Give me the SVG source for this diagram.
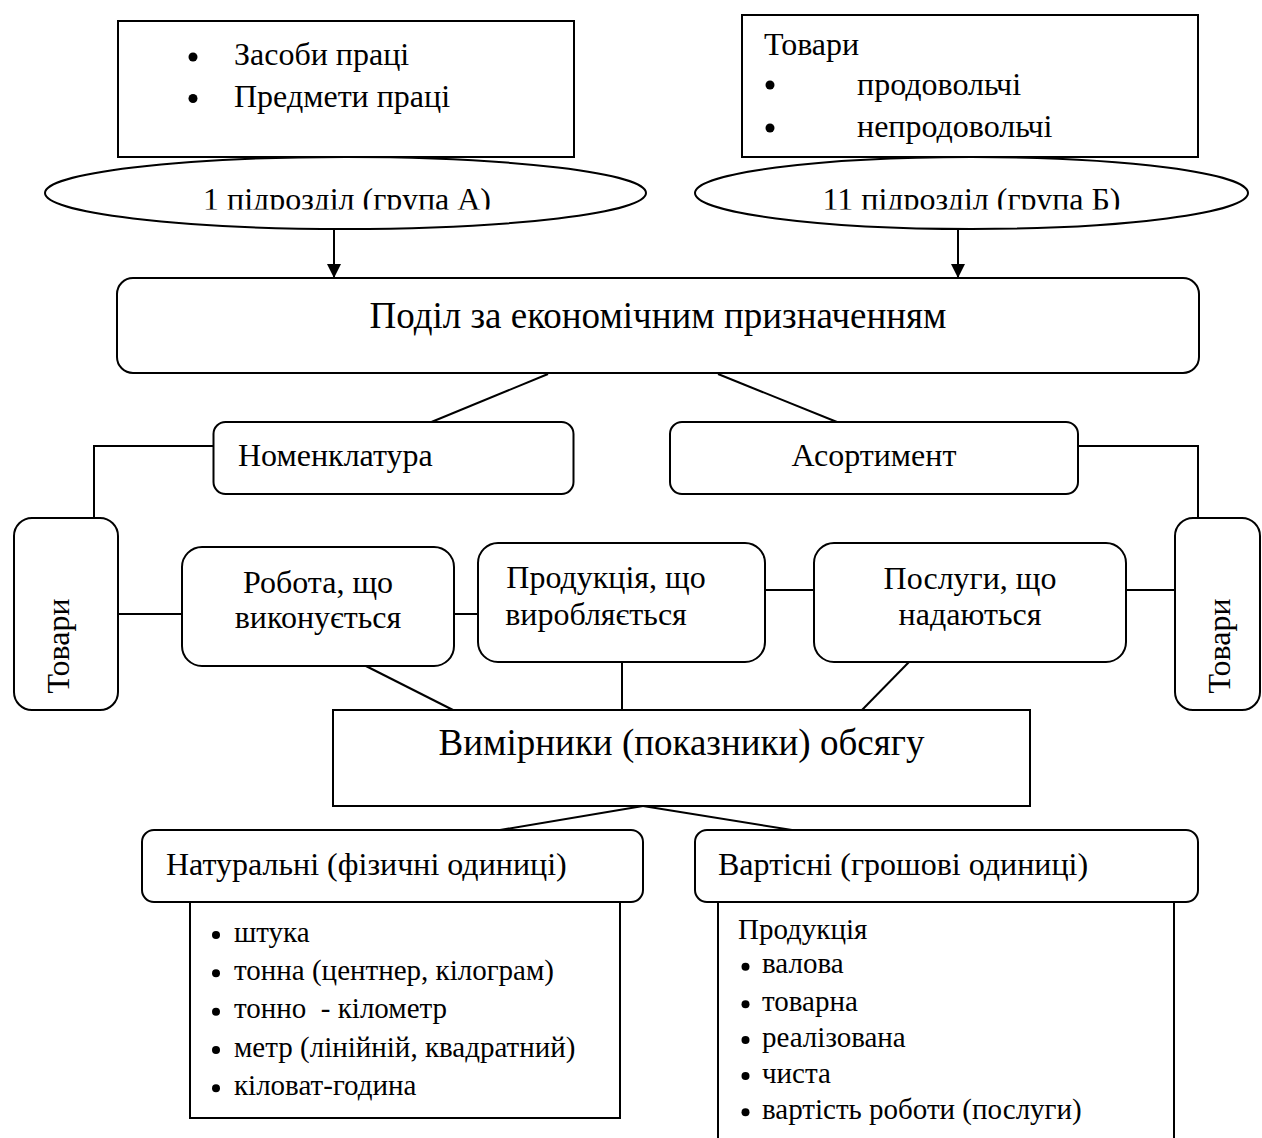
<svg xmlns="http://www.w3.org/2000/svg" width="1262" height="1138" viewBox="0 0 1262 1138">
<style>
  .box { fill: #fff; stroke: #000; stroke-width: 2; }
  .ln { fill: none; stroke: #000; stroke-width: 2; }
  text { font-family: "Liberation Serif", "Times New Roman", serif; fill: #000; }
  .t32 { font-size: 32px; }
  .t37 { font-size: 37px; }
  .t29 { font-size: 29px; }
  .mid { text-anchor: middle; }
  .dot { fill: #000; }
</style>
<defs>
  <marker id="arr" markerUnits="userSpaceOnUse" markerWidth="16" markerHeight="16" refX="14" refY="7" orient="auto">
    <path d="M0,0 L14,7 L0,14 Z" fill="#000"/>
  </marker>
  <clipPath id="clipA"><rect x="0" y="150" width="1262" height="59.5"/></clipPath>
</defs>

<g id="connectors">
  <line class="ln" x1="334" y1="229" x2="334" y2="278" marker-end="url(#arr)"/>
  <line class="ln" x1="958" y1="229" x2="958" y2="278" marker-end="url(#arr)"/>
  <line class="ln" x1="548" y1="374" x2="429" y2="423"/>
  <line class="ln" x1="718" y1="374" x2="837" y2="422"/>
  <polyline class="ln" points="213,446 94,446 94,518"/>
  <polyline class="ln" points="1078,446 1198,446 1198,518"/>
  <line class="ln" x1="118" y1="614" x2="189" y2="614"/>
  <line class="ln" x1="454" y1="614" x2="478" y2="614"/>
  <line class="ln" x1="765" y1="590" x2="814" y2="590"/>
  <line class="ln" x1="1126" y1="590" x2="1175" y2="590"/>
  <line class="ln" x1="358" y1="662" x2="453" y2="710"/>
  <line class="ln" x1="622" y1="662" x2="622" y2="710"/>
  <line class="ln" x1="909" y1="662" x2="862" y2="710"/>
  <line class="ln" x1="643" y1="806" x2="500" y2="830"/>
  <line class="ln" x1="643" y1="806" x2="792" y2="830"/>
</g>

<g id="node-means">
  <rect class="box" x="118" y="21" width="456" height="136"/>
  <circle class="dot" cx="193" cy="57" r="4.5"/>
  <circle class="dot" cx="193" cy="98.5" r="4.5"/>
  <text class="t32" x="234" y="65">Засоби праці</text>
  <text class="t32" x="234" y="107">Предмети праці</text>
</g>

<g id="node-goods-top">
  <rect class="box" x="742" y="15" width="456" height="142"/>
  <text class="t32" x="764" y="55">Товари</text>
  <circle class="dot" cx="770" cy="85" r="4.5"/>
  <circle class="dot" cx="770" cy="128" r="4.5"/>
  <text class="t32" x="857" y="95">продовольчі</text>
  <text class="t32" x="857" y="137">непродовольчі</text>
</g>

<g id="node-group-a">
  <ellipse class="box" cx="345.5" cy="193" rx="300.5" ry="36"/>
  <text class="t32 mid" x="347" y="210" clip-path="url(#clipA)">1 підрозділ (група А)</text>
</g>

<g id="node-group-b">
  <ellipse class="box" cx="971.5" cy="193" rx="276.5" ry="36"/>
  <text class="t32 mid" x="971.5" y="210" clip-path="url(#clipA)">11 підрозділ (група Б)</text>
</g>

<g id="node-division">
  <rect class="box" x="117" y="278" width="1082" height="95" rx="16"/>
  <text class="t37 mid" x="658" y="328">Поділ за економічним призначенням</text>
</g>

<g id="node-nomenclature">
  <rect class="box" x="213.5" y="422" width="360" height="72" rx="12"/>
  <text class="t32" x="238" y="466">Номенклатура</text>
</g>

<g id="node-assortment">
  <rect class="box" x="670" y="422" width="408" height="72" rx="12"/>
  <text class="t32 mid" x="874" y="466">Асортимент</text>
</g>

<g id="node-goods-left">
  <rect class="box" x="14" y="518" width="104" height="192" rx="18"/>
  <text class="t32 mid" transform="translate(69,646) rotate(-90)">Товари</text>
</g>

<g id="node-goods-right">
  <rect class="box" x="1175" y="518" width="85" height="192" rx="18"/>
  <text class="t32 mid" transform="translate(1230,646) rotate(-90)">Товари</text>
</g>

<g id="node-work">
  <rect class="box" x="182" y="547" width="272" height="119" rx="20"/>
  <text class="t32 mid" x="318" y="593">Робота, що</text>
  <text class="t32 mid" x="318" y="628">виконується</text>
</g>

<g id="node-products">
  <rect class="box" x="478" y="543" width="287" height="119" rx="20"/>
  <text class="t32 mid" x="606" y="588">Продукція, що</text>
  <text class="t32 mid" x="596" y="625">виробляється</text>
</g>

<g id="node-services">
  <rect class="box" x="814" y="543" width="312" height="119" rx="20"/>
  <text class="t32 mid" x="970" y="589">Послуги, що</text>
  <text class="t32 mid" x="970" y="625">надаються</text>
</g>

<g id="node-measures">
  <rect class="box" x="333" y="710" width="697" height="96"/>
  <text class="t37 mid" x="681.5" y="755">Вимірники (показники) обсягу</text>
</g>

<g id="node-natural">
  <rect class="box" x="190" y="902" width="430" height="216"/>
  <rect class="box" x="142" y="830" width="501" height="72" rx="12"/>
  <text class="t32" x="166" y="875">Натуральні (фізичні одиниці)</text>
  <circle class="dot" cx="216" cy="935" r="4"/>
  <circle class="dot" cx="216" cy="973.3" r="4"/>
  <circle class="dot" cx="216" cy="1011.7" r="4"/>
  <circle class="dot" cx="216" cy="1050" r="4"/>
  <circle class="dot" cx="216" cy="1088.3" r="4"/>
  <text class="t29" x="234" y="942">штука</text>
  <text class="t29" x="234" y="980">тонна (центнер, кілограм)</text>
  <text class="t29" x="234" y="1018">тонно&#160; - кілометр</text>
  <text class="t29" x="234" y="1056.5">метр (лінійній, квадратний)</text>
  <text class="t29" x="234" y="1095">кіловат-година</text>
</g>

<g id="node-value">
  <rect class="box" x="718" y="902" width="456" height="260"/>
  <rect class="box" x="695" y="830" width="503" height="72" rx="12"/>
  <text class="t32" x="718" y="875">Вартісні (грошові одиниці)</text>
  <text class="t29" x="738" y="939">Продукція</text>
  <circle class="dot" cx="745.5" cy="966.7" r="4"/>
  <circle class="dot" cx="745.5" cy="1004.3" r="4"/>
  <circle class="dot" cx="745.5" cy="1040" r="4"/>
  <circle class="dot" cx="745.5" cy="1076" r="4"/>
  <circle class="dot" cx="745.5" cy="1112.3" r="4"/>
  <text class="t29" x="762" y="973">валова</text>
  <text class="t29" x="762" y="1011">товарна</text>
  <text class="t29" x="762" y="1046.5">реалізована</text>
  <text class="t29" x="762" y="1082.5">чиста</text>
  <text class="t29" x="762" y="1119">вартість роботи (послуги)</text>
</g>
</svg>
